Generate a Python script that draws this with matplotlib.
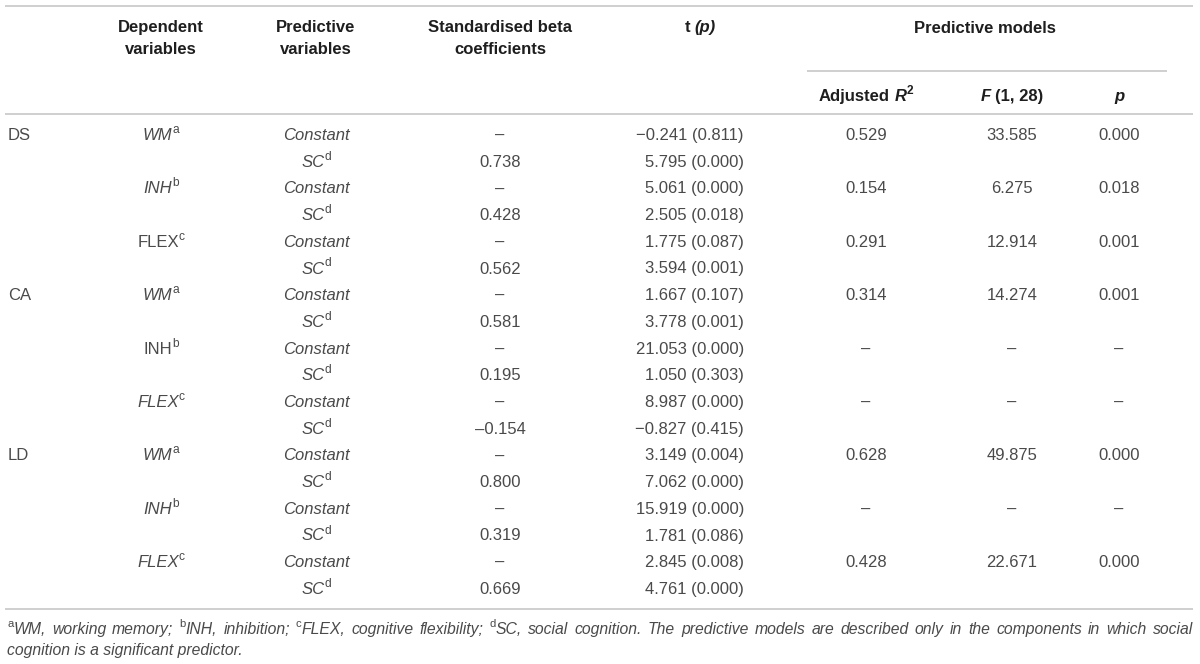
import matplotlib
matplotlib.use('Agg')
import matplotlib.pyplot as plt

plt.rcParams['font.family'] = ['Liberation Sans', 'DejaVu Sans']

DPI = 100
FS = 12
FOOT_FS = 11.3
TEXT_COLOR = '#4a4a4a'
HEAD_COLOR = '#1e1e1e'
RULE_COLOR = '#cccccc'

# table content
dependent = ['DS', 'CA', 'LD']
components = ['WM', 'INH', 'FLEX']
component_sup = ['a', 'b', 'c']
# italic flag of each component label, per dependent variable
component_italic = [[True, True, False],
                    [True, False, True],
                    [True, True, True]]
predictors = ['Constant', 'SC']
beta = ['–', '0.738', '–', '0.428', '–', '0.562',
        '–', '0.581', '–', '0.195', '–', '–0.154',
        '–', '0.800', '–', '0.319', '–', '0.669']
t_p = ['−0.241 (0.811)', '5.795 (0.000)', '5.061 (0.000)', '2.505 (0.018)',
       '1.775 (0.087)', '3.594 (0.001)', '1.667 (0.107)', '3.778 (0.001)',
       '21.053 (0.000)', '1.050 (0.303)', '8.987 (0.000)', '−0.827 (0.415)',
       '3.149 (0.004)', '7.062 (0.000)', '15.919 (0.000)', '1.781 (0.086)',
       '2.845 (0.008)', '4.761 (0.000)']
adj_r2 = ['0.529', '0.154', '0.291', '0.314', '–', '–', '0.628', '–', '0.428']
f_val = ['33.585', '6.275', '12.914', '14.274', '–', '–', '49.875', '–', '22.671']
p_val = ['0.000', '0.018', '0.001', '0.001', '–', '–', '0.000', '–', '0.000']

footnote_1 = [[('a', 's'), ('WM,', 'i')], [('working', 'i')], [('memory;', 'i')],
              [('b', 's'), ('INH,', 'i')], [('inhibition;', 'i')],
              [('c', 's'), ('FLEX,', 'i')], [('cognitive', 'i')], [('flexibility;', 'i')],
              [('d', 's'), ('SC,', 'i')], [('social', 'i')], [('cognition.', 'i')]]
footnote_1 += [[(w, 'i')] for w in
               'The predictive models are described only in the components in which social'.split()]
footnote_2 = 'cognition is a significant predictor.'

fig = plt.figure(figsize=(12, 6.64), dpi=DPI)
ax = fig.add_axes([0, 0, 1, 1])
ax.set_xlim(0, 1200)
ax.set_ylim(664, 0)
ax.axis('off')
renderer = fig.canvas.get_renderer()


def props(kind, fs):
    d = dict(fontsize=fs, fontstyle='normal', fontweight='normal', dy=0)
    if 'i' in kind:
        d['fontstyle'] = 'italic'
    if 'b' in kind:
        d['fontweight'] = 'bold'
    if 's' in kind:
        d['fontsize'] = fs * 0.72
        d['dy'] = -fs * 0.42 * DPI / 72
    return d


def measure(s, kind, fs):
    p = props(kind, fs)
    if s == ' ':
        return measure('x x', kind, fs) - measure('xx', kind, fs)
    t = ax.text(0, 0, s, fontsize=p['fontsize'], fontstyle=p['fontstyle'],
                fontweight=p['fontweight'])
    w = t.get_window_extent(renderer).width
    t.remove()
    return w


def draw_rich(x, y, pieces, ha='left', color=TEXT_COLOR, fs=FS):
    # y is the visual centre of the row, converted to a baseline
    base = y + 0.36 * fs * DPI / 72
    widths = [measure(s, k, fs) for s, k in pieces]
    total = sum(widths)
    if ha == 'center':
        x -= total / 2
    elif ha == 'right':
        x -= total
    for (s, k), w in zip(pieces, widths):
        if s != ' ':
            p = props(k, fs)
            ax.text(x, base + p['dy'], s, fontsize=p['fontsize'], fontstyle=p['fontstyle'],
                    fontweight=p['fontweight'], color=color, va='baseline', ha='left')
        x += w
    return total


def rule(y, x0=5, x1=1193):
    ax.plot([x0, x1], [y, y], color=RULE_COLOR, lw=1.3, solid_capstyle='butt')


# column positions
X_DEP, X_COMP, X_PRED, X_BETA, X_T = 8, 161, 316, 500, 744
X_R2, X_F, X_P = 866, 1012, 1119
ROW0, ROW_H = 134, 26.7

# rules
rule(6)
rule(71, 807, 1167)
rule(114)
rule(609)

# header
for x, lines in [(X_COMP, ['Dependent', 'variables']),
                 (X_PRED, ['Predictive', 'variables']),
                 (X_BETA, ['Standardised beta', 'coefficients'])]:
    for j, s in enumerate(lines):
        draw_rich(x, 26 + 22 * j, [(s, 'b')], 'center', HEAD_COLOR)
draw_rich(700, 26, [('t', 'b'), (' ', 'b'), ('(p)', 'bi')], 'center', HEAD_COLOR)
draw_rich(985, 27, [('Predictive models', 'b')], 'center', HEAD_COLOR)
draw_rich(X_R2, 95, [('Adjusted', 'b'), (' ', 'b'), ('R', 'bi'), ('2', 'sb')], 'center', HEAD_COLOR)
draw_rich(X_F, 95, [('F', 'bi'), (' ', 'b'), ('(1, 28)', 'b')], 'center', HEAD_COLOR)
draw_rich(X_P, 95, [('p', 'bi')], 'center', HEAD_COLOR)

# body
for r in range(18):
    y = ROW0 + ROW_H * r
    g, rem = divmod(r, 6)
    c, sub = divmod(rem, 2)
    model = r // 2
    if rem == 0:
        draw_rich(X_DEP, y, [(dependent[g], 'r')])
    if sub == 0:
        style = 'i' if component_italic[g][c] else 'r'
        draw_rich(X_COMP, y, [(components[c], style), (component_sup[c], 's')], 'center')
        draw_rich(X_PRED, y, [(predictors[0], 'i')], 'center')
        draw_rich(X_R2, y, [(adj_r2[model], 'r')], 'center')
        draw_rich(X_F, y, [(f_val[model], 'r')], 'center')
        draw_rich(X_P, y, [(p_val[model], 'r')], 'center')
    else:
        draw_rich(X_PRED, y, [(predictors[1], 'i'), ('d', 's')], 'center')
    draw_rich(X_BETA, y, [(beta[r], 'r')], 'center')
    draw_rich(X_T, y, [(t_p[r], 'r')], 'right')

# footnote, first line justified
tok_w = [sum(measure(s, k, FOOT_FS) for s, k in tok) for tok in footnote_1]
gap = (1193 - 7 - sum(tok_w)) / (len(footnote_1) - 1)
x = 7
for tok, w in zip(footnote_1, tok_w):
    draw_rich(x, 628, tok, 'left', TEXT_COLOR, FOOT_FS)
    x += w + gap
draw_rich(7, 649, [(footnote_2, 'i')], 'left', TEXT_COLOR, FOOT_FS)

fig.savefig('out.png', dpi=DPI)
